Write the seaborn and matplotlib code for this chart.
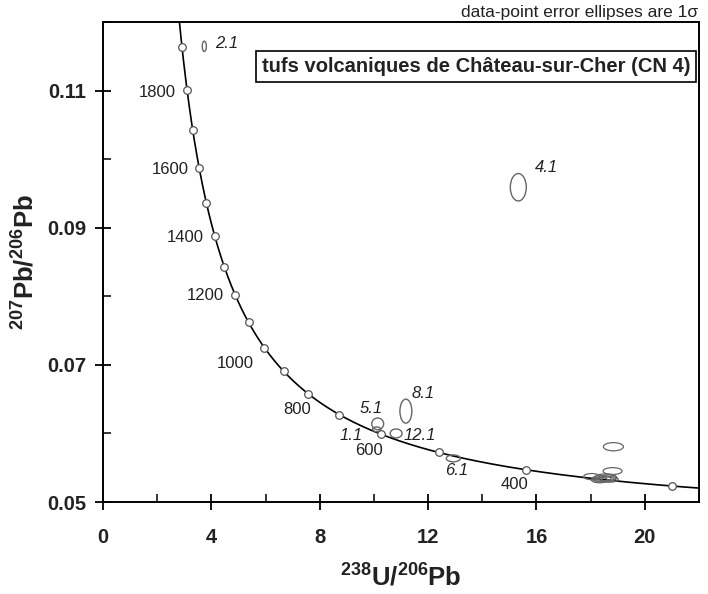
import numpy as np
import pandas as pd
import seaborn as sns
import matplotlib
matplotlib.use("Agg")
import matplotlib.pyplot as plt
from matplotlib.patches import Ellipse
from matplotlib.ticker import MultipleLocator

# --- decay constants (Steiger & Jäger) -------------------------------------
LAMBDA_238 = 1.55125e-10
LAMBDA_235 = 9.8485e-10
U_RATIO = 137.88

# --- concordia age marks (Ma) ----------------------------------------------
marker_ages = [300, 400, 500, 600, 700, 800, 900, 1000, 1100, 1200,
               1300, 1400, 1500, 1600, 1700, 1800, 1900]
label_ages = [400, 600, 800, 1000, 1200, 1400, 1600, 1800]

# --- zircon spot analyses: 238U/206Pb, 207Pb/206Pb and 1-sigma ellipse axes --
spot_ids = ["1.1", "2.1", "4.1", "5.1", "6.1", "8.1", "12.1",
            "", "", "", "", "", "", "", "", ""]
u238_pb206 = [10.10, 3.74, 15.33, 10.14, 12.93, 11.18, 10.82,
              18.84, 18.81, 18.04, 18.40, 18.52, 18.62, 18.72, 18.55, 18.33]
pb207_pb206 = [0.0606, 0.11645, 0.0959, 0.0614, 0.05636, 0.06325, 0.0600,
               0.05806, 0.05451, 0.0537, 0.0534, 0.0533, 0.0535, 0.0533, 0.0536, 0.0532]
ell_width = [0.30, 0.15, 0.59, 0.44, 0.52, 0.44, 0.44,
             0.74, 0.70, 0.60, 0.70, 0.70, 0.70, 0.60, 0.80, 0.60]
ell_height = [0.0007, 0.0015, 0.0040, 0.0017, 0.0010, 0.0035, 0.0013,
              0.0012, 0.0010, 0.0009, 0.0009, 0.0008, 0.0009, 0.0008, 0.0010, 0.0008]

# label placement around the marks (pixels)
age_label_offset = {400: (-12, -15), 600: (-12, -16), 800: (-11, -16),
                    1000: (-29, -16), 1200: (-30, 0), 1400: (-29, -2),
                    1600: (-29, -2), 1800: (-30, -2)}
spot_label_offset = {"1.1": (-25, -6), "2.1": (22, 3), "4.1": (28, 20),
                     "5.1": (-7, 15), "6.1": (3, -12), "8.1": (17, 18),
                     "12.1": (24, -2)}


def tera_wasserburg(age_ma):
    t = np.asarray(age_ma, dtype=float) * 1e6
    e238 = np.exp(LAMBDA_238 * t) - 1.0
    e235 = np.exp(LAMBDA_235 * t) - 1.0
    return 1.0 / e238, e235 / (e238 * U_RATIO)


sns.set_theme(style="ticks")
plt.rcParams["font.family"] = ["Liberation Sans", "DejaVu Sans"]
plt.rcParams["mathtext.fontset"] = "custom"
plt.rcParams["mathtext.rm"] = "Liberation Sans"
plt.rcParams["mathtext.bf"] = "Liberation Sans:bold"

fig = plt.figure(figsize=(7.08, 5.94), dpi=100)
ax = fig.add_axes([103 / 708, 1 - 502 / 594, 596 / 708, 480 / 594])

# concordia curve
curve_ages = np.linspace(250, 2150, 600)
cx, cy = tera_wasserburg(curve_ages)
curve = pd.DataFrame({"x": cx, "y": cy})
sns.lineplot(data=curve, x="x", y="y", sort=False, color="black",
             linewidth=1.2, ax=ax, zorder=2)

# age marks on the concordia
mx, my = tera_wasserburg(marker_ages)
marks = pd.DataFrame({"x": mx, "y": my, "age": marker_ages})
sns.scatterplot(data=marks, x="x", y="y", s=30, color="white",
                edgecolor="#555555", linewidth=0.9, ax=ax, zorder=4)

for age in label_ages:
    lx, ly = tera_wasserburg(age)
    dx, dy = age_label_offset[age]
    ax.annotate(str(age), (float(lx), float(ly)), xytext=(dx, dy),
                textcoords="offset pixels", ha="center", va="center",
                fontsize=12, color="#222222", zorder=5)

# error ellipses
for sid, x, y, w, h in zip(spot_ids, u238_pb206, pb207_pb206, ell_width, ell_height):
    ax.add_patch(Ellipse((x, y), w, h, facecolor="none", edgecolor="#666666",
                         linewidth=1.0 if sid else 0.9, zorder=3))
    if sid:
        dx, dy = spot_label_offset[sid]
        ax.annotate(sid, (x, y), xytext=(dx, dy), textcoords="offset pixels",
                    ha="center", va="center", fontsize=12, style="italic",
                    color="#222222", zorder=5)

ax.set_xlim(0, 22)
ax.set_ylim(0.05, 0.12)

ax.xaxis.set_major_locator(MultipleLocator(4))
ax.xaxis.set_minor_locator(MultipleLocator(2))
ax.yaxis.set_major_locator(MultipleLocator(0.02))
ax.yaxis.set_minor_locator(MultipleLocator(0.01))
ax.set_xticks([0, 4, 8, 12, 16, 20])
ax.set_xticklabels(["0", "4", "8", "12", "16", "20"])
ax.set_yticks([0.05, 0.07, 0.09, 0.11])
ax.set_yticklabels(["0.05", "0.07", "0.09", "0.11"])

ax.tick_params(axis="both", which="major", direction="inout", length=12,
               width=1.3, color="black", labelsize=14.5, labelcolor="#222222")
ax.tick_params(axis="x", which="major", pad=13)
ax.tick_params(axis="y", which="major", pad=6)
ax.tick_params(axis="both", which="minor", direction="in", length=6,
               width=1.1, color="black")
for lab in ax.get_xticklabels() + ax.get_yticklabels():
    lab.set_fontweight("bold")

for side in ["left", "right", "top", "bottom"]:
    ax.spines[side].set_visible(True)
    ax.spines[side].set_color("black")
    ax.spines[side].set_linewidth(1.4)

ax.set_xlabel(r"$\mathbf{^{238}U/^{206}Pb}$", fontsize=18.5, color="#222222",
              labelpad=12)
ax.set_ylabel(r"$\mathbf{^{207}Pb/^{206}Pb}$", fontsize=18.5, color="#222222",
              labelpad=6)

ax.text(0.985, 0.908, "tufs volcaniques de Château-sur-Cher (CN 4)",
        transform=ax.transAxes, ha="right", va="center", fontsize=14.5,
        fontweight="bold", color="#222222", zorder=6,
        bbox=dict(boxstyle="square,pad=0.3", facecolor="white",
                  edgecolor="black", linewidth=1.2))

fig.text(698 / 708, 1 - 12 / 594, "data-point error ellipses are 1σ",
         ha="right", va="center", fontsize=12.5, color="#222222")

fig.savefig("out.png", dpi=100)
